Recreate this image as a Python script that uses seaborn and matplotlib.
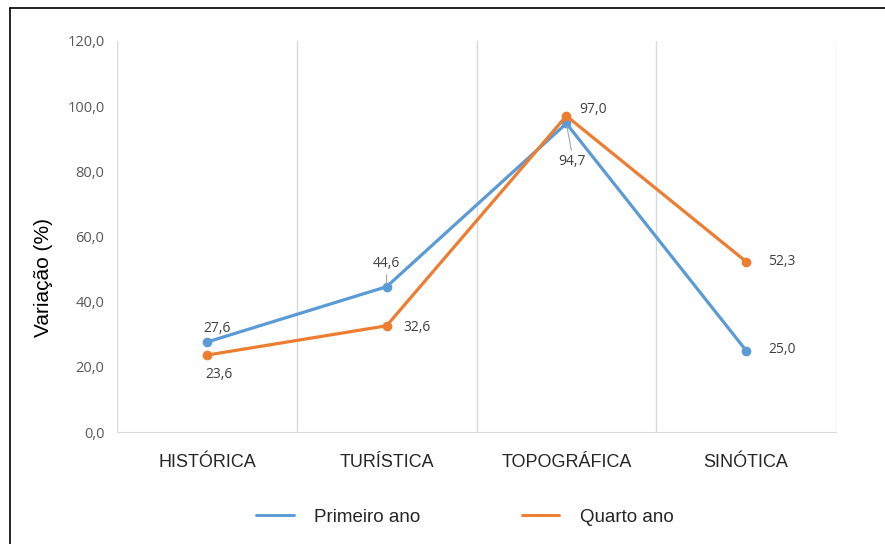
import matplotlib
matplotlib.use('Agg')
import matplotlib.pyplot as plt
import seaborn as sns
import pandas as pd
from matplotlib.lines import Line2D

# Chart values
categorias = ['HISTÓRICA', 'TURÍSTICA', 'TOPOGRÁFICA', 'SINÓTICA']
primeiro_ano = [27.6, 44.6, 94.7, 25.0]
quarto_ano = [23.6, 32.6, 97.0, 52.3]
y_ticks = [0, 20, 40, 60, 80, 100, 120]

# label offsets in pixels (dx, dy) for each point
offsets_primeiro = [(10, 14), (0, 23), (6, -38), (36, 1)]
offsets_quarto = [(12, -19), (30, -2), (27, 6), (36, 0)]

cor_azul = '#5B9BD5'
cor_laranja = '#ED7D31'

sns.set_style('white')
plt.rcParams['font.family'] = ['Liberation Sans', 'DejaVu Sans']

df = pd.DataFrame({
    'categoria': categorias * 2,
    'valor': primeiro_ano + quarto_ano,
    'serie': ['Primeiro ano'] * 4 + ['Quarto ano'] * 4,
})

fig = plt.figure(figsize=(8.85, 5.44), dpi=100)
ax = fig.add_axes([117 / 885, 1 - 432 / 544, (836 - 117) / 885, (432 - 41) / 544])

sns.lineplot(data=df, x='categoria', y='valor', hue='serie',
             palette=[cor_azul, cor_laranja], marker='o', markersize=7,
             markeredgewidth=0, linewidth=2.3, legend=False, ax=ax, sort=False)

ax.set_xlim(-0.5, len(categorias) - 0.5)
ax.set_ylim(0, 120)
ax.set_yticks(y_ticks)
ax.set_yticklabels([f'{v:.1f}'.replace('.', ',') for v in y_ticks],
                   family='Open Sans', fontsize=10.5, color='#595959')
ax.set_xticks(range(len(categorias)))
ax.set_xticklabels(categorias, fontsize=13, color='#262626')
ax.set_xticks([i - 0.5 for i in range(len(categorias) + 1)], minor=True)
ax.tick_params(axis='both', which='both', length=0)
ax.tick_params(axis='x', pad=16)
ax.tick_params(axis='y', pad=9)
ax.grid(False)
ax.grid(True, axis='x', which='minor', color='#D9D9D9', linewidth=1)
for lado in ['top', 'left', 'right']:
    ax.spines[lado].set_visible(False)
ax.spines['bottom'].set_color('#D9D9D9')
ax.set_xlabel('')
ax.set_ylabel('Variação (%)', fontsize=15, color='#000000')
ax.yaxis.set_label_coords(-0.089, 0.396)

# data labels
for valores, offs in [(primeiro_ano, offsets_primeiro), (quarto_ano, offsets_quarto)]:
    for i, v in enumerate(valores):
        dx, dy = offs[i]
        ax.annotate(f'{v:.1f}'.replace('.', ','), (i, v), xytext=(dx, dy),
                    textcoords='offset pixels', ha='center', va='center',
                    family='Open Sans', fontsize=10, color='#404040')

# leader lines
ax.annotate('', (2, primeiro_ano[2]), xytext=(5, -27), textcoords='offset pixels',
            arrowprops=dict(arrowstyle='-', color='#A6A6A6', lw=0.8,
                            shrinkA=0, shrinkB=2))
ax.annotate('', (1, primeiro_ano[1]), xytext=(0, 12), textcoords='offset pixels',
            arrowprops=dict(arrowstyle='-', color='#A6A6A6', lw=0.8,
                            shrinkA=0, shrinkB=2))

# legend
handles = [Line2D([0], [0], color=cor_azul, lw=2.1),
           Line2D([0], [0], color=cor_laranja, lw=2.1)]
fig.legend(handles, ['Primeiro ano', 'Quarto ano'], loc='center',
           bbox_to_anchor=(465 / 885, 1 - 517 / 544), ncol=2, frameon=False,
           fontsize=13.5, handlelength=2.0, handletextpad=1.1, columnspacing=5.4)

# outer border (top and left visible)
fig.add_artist(Line2D([10 / 885, 10 / 885], [0, 1 - 8 / 544], color='black',
                      lw=1.2, transform=fig.transFigure))
fig.add_artist(Line2D([10 / 885, 1], [1 - 8 / 544, 1 - 8 / 544], color='black',
                      lw=1.2, transform=fig.transFigure))

fig.savefig('out.png', dpi=100)
